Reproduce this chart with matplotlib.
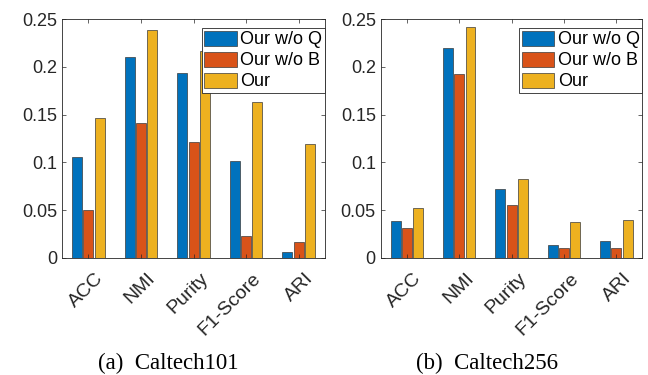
import numpy as np
import matplotlib
matplotlib.use("Agg")
import matplotlib.pyplot as plt
import matplotlib.transforms as mtransforms
from matplotlib.ticker import FormatStrFormatter

metrics = ["ACC", "NMI", "Purity", "F1-Score", "ARI"]
series = ["Our w/o Q", "Our w/o B", "Our"]
colors = ["#0072BD", "#D95319", "#EDB120"]

caltech101_woq = [0.106, 0.210, 0.194, 0.101, 0.006]
caltech101_wob = [0.050, 0.141, 0.121, 0.023, 0.017]
caltech101_our = [0.147, 0.239, 0.217, 0.163, 0.119]

caltech256_woq = [0.039, 0.220, 0.072, 0.014, 0.018]
caltech256_wob = [0.031, 0.193, 0.055, 0.010, 0.010]
caltech256_our = [0.052, 0.242, 0.083, 0.038, 0.040]

plt.rcParams["font.family"] = ["Liberation Sans", "DejaVu Sans"]

fig = plt.figure(figsize=(6.48, 3.75), dpi=100)
axes = [fig.add_axes([0.0957, 0.312, 0.406, 0.637]),
        fig.add_axes([0.5875, 0.312, 0.404, 0.637])]
panels = [(caltech101_woq, caltech101_wob, caltech101_our),
          (caltech256_woq, caltech256_wob, caltech256_our)]
captions = ["(a)  Caltech101", "(b)  Caltech256"]
caption_x = [0.259, 0.752]

x = np.arange(1, len(metrics) + 1)
offsets = [-0.215, 0, 0.215]
# MATLAB-style rotated labels sit a bit right of and below the tick
shift = mtransforms.ScaledTranslation(0.06, -0.12, fig.dpi_scale_trans)

for ax, data, cap, cx in zip(axes, panels, captions, caption_x):
    for vals, off, c, lab in zip(data, offsets, colors, series):
        ax.bar(x + off, vals, width=0.19, color=c, edgecolor="#3a3a3a",
               linewidth=0.5, label=lab)
    ax.set_xlim(0.5, 5.5)
    ax.set_ylim(0, 0.25)
    ax.set_yticks(np.arange(0, 0.26, 0.05))
    ax.yaxis.set_major_formatter(FormatStrFormatter("%g"))
    ax.set_xticks(x)
    ax.set_xticklabels([])
    for xi, name in zip(x, metrics):
        ax.text(xi, 0, name, transform=ax.get_xaxis_transform() + shift,
                rotation=45, ha="right", va="top", rotation_mode="anchor",
                fontsize=14, color="#262626")
    ax.tick_params(direction="in", top=True, right=True, labelsize=13,
                   colors="#262626", length=3, width=0.5)
    for s in ax.spines.values():
        s.set_color("#262626")
        s.set_linewidth(0.6)
    leg = ax.legend(loc="upper right", bbox_to_anchor=(1.0, 0.963),
                    fontsize=13, fancybox=False, framealpha=1,
                    edgecolor="#262626", borderpad=0.15,
                    handlelength=1.8, handleheight=0.9, handletextpad=0.2,
                    labelspacing=0.18, borderaxespad=0)
    leg.get_frame().set_linewidth(0.6)
    fig.text(cx, 0.032, cap, ha="center", va="center",
             fontsize=16.5, family=["Liberation Serif", "DejaVu Serif"])

fig.savefig("out.png", dpi=100)
